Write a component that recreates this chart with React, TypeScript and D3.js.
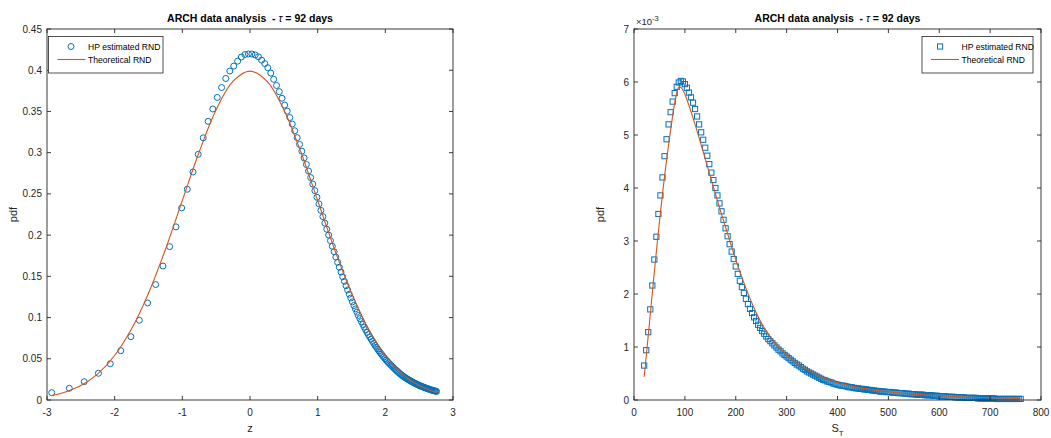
import React, { useLayoutEffect } from 'react';
import * as d3 from 'd3';

// left panel: standardised z
const zHp = [-2.93, -2.67, -2.45, -2.24, -2.065, -1.91, -1.76, -1.636, -1.513, -1.394, -1.286, -1.187, -1.094, -1.01, -0.927, -0.842,
  -0.765, -0.691, -0.619, -0.55, -0.484, -0.42, -0.358, -0.298, -0.24, -0.183, -0.128, -0.075, -0.023, 0.028, 0.077, 0.125, 0.172, 0.218, 0.263, 0.307, 0.35, 0.392, 0.433, 0.473,
  0.512, 0.55, 0.588, 0.625, 0.661, 0.697, 0.732, 0.766, 0.8, 0.833, 0.865, 0.897, 0.928, 0.959, 0.989, 1.019, 1.048, 1.077, 1.106,
  1.134, 1.162, 1.189, 1.216, 1.243, 1.269, 1.295, 1.32, 1.345, 1.37, 1.395, 1.419, 1.443, 1.467, 1.49, 1.513, 1.536, 1.558, 1.58, 1.602,
  1.624, 1.646, 1.667, 1.688, 1.709, 1.73, 1.75, 1.77, 1.79, 1.81, 1.829, 1.848, 1.867, 1.886, 1.905, 1.923, 1.941, 1.959, 1.977, 1.995,
  2.013, 2.03, 2.047, 2.064, 2.081, 2.098, 2.115, 2.131, 2.147, 2.163, 2.179, 2.195, 2.211, 2.227, 2.242, 2.257, 2.272, 2.287, 2.302, 2.317,
  2.332, 2.347, 2.361, 2.375, 2.389, 2.403, 2.417, 2.431, 2.445, 2.459, 2.473, 2.487, 2.5, 2.513, 2.526, 2.539, 2.552, 2.565, 2.578, 2.591,
  2.603, 2.615, 2.627, 2.639, 2.651, 2.663, 2.675, 2.687, 2.699, 2.711, 2.723, 2.735, 2.746, 2.757];
const pdfHpZ = [0.0089, 0.0142, 0.0222, 0.0324, 0.044, 0.0598, 0.0768, 0.0967, 0.1177, 0.14, 0.1625, 0.186, 0.21, 0.233, 0.2556, 0.2766,
  0.298, 0.318, 0.338, 0.353, 0.367, 0.379, 0.39, 0.399, 0.405, 0.411, 0.416, 0.419, 0.4197, 0.4197, 0.4185, 0.4163, 0.4122, 0.408, 0.403, 0.3965, 0.389, 0.3815, 0.374, 0.366,
  0.3577, 0.3504, 0.3426, 0.3347, 0.3266, 0.3182, 0.31, 0.3018, 0.2937, 0.2857, 0.2777, 0.2698, 0.2619, 0.2539, 0.2459, 0.2379, 0.23, 0.2224, 0.2146,
  0.2072, 0.2001, 0.1933, 0.1865, 0.1798, 0.1733, 0.167, 0.161, 0.1552, 0.1495, 0.1439, 0.1386, 0.1334, 0.1283, 0.1237, 0.119, 0.1146, 0.1105, 0.1065, 0.1026,
  0.0987, 0.0951, 0.0917, 0.0884, 0.0852, 0.0821, 0.0793, 0.0765, 0.0738, 0.0711, 0.0687, 0.0663, 0.064, 0.0618, 0.0596, 0.0576, 0.0556, 0.0538, 0.0519, 0.0501,
  0.0484, 0.0468, 0.0453, 0.0438, 0.0424, 0.041, 0.0396, 0.0383, 0.037, 0.0358, 0.0346, 0.0334, 0.0322, 0.0311, 0.0302, 0.0292, 0.0283, 0.0275, 0.0266, 0.0259,
  0.0251, 0.0244, 0.0237, 0.023, 0.0224, 0.0217, 0.0211, 0.0205, 0.0199, 0.0194, 0.0188, 0.0182, 0.0177, 0.0173, 0.0168, 0.0164, 0.016, 0.0156, 0.0152, 0.0147,
  0.0144, 0.014, 0.0137, 0.0133, 0.013, 0.0126, 0.0123, 0.012, 0.0117, 0.0114, 0.0112, 0.0109, 0.0107, 0.0104];
const zTheo = [-2.93, -2.75, -2.5, -2.25, -2, -1.75, -1.5, -1.25, -1, -0.75, -0.5, -0.25, 0, 0.25, 0.5, 0.75, 1, 1.25, 1.5, 1.75, 2, 2.25, 2.5, 2.76];
const pdfTheoZ = [0.0055, 0.0091, 0.0175, 0.0317, 0.054, 0.0863, 0.1295, 0.1826, 0.242, 0.3011, 0.3521, 0.3867, 0.3989, 0.3867, 0.3521, 0.3011, 0.242, 0.1826, 0.1295, 0.0863, 0.054, 0.0317, 0.0175, 0.0088];

// right panel: S_T, pdf in units of 1e-3
const sHp = [20, 24, 28, 32, 36, 40, 44, 48, 52, 56, 60, 64, 68, 72, 76, 80, 84, 88, 92, 96,
  100, 104, 108, 112, 116, 120, 124, 128, 132, 136, 140, 144, 148, 152, 156, 160, 164, 168, 172, 176,
  180, 184, 188, 192, 196, 200, 204, 208, 212, 216, 220, 224, 228, 232, 236, 240, 244, 248, 252, 256,
  260, 264, 268, 272, 276, 280, 284, 288, 292, 296, 300, 304, 308, 312, 316, 320, 324, 328, 332, 336,
  340, 344, 348, 352, 356, 360, 364, 368, 372, 376, 380, 384, 388, 392, 396, 400, 404, 408, 412, 416,
  420, 424, 428, 432, 436, 440, 444, 448, 452, 456, 460, 464, 468, 472, 476, 480, 484, 488, 492, 496,
  500, 504, 508, 512, 516, 520, 524, 528, 532, 536, 540, 544, 548, 552, 556, 560, 564, 568, 572, 576,
  580, 584, 588, 592, 596, 600, 604, 608, 612, 616, 620, 624, 628, 632, 636, 640, 644, 648, 652, 656,
  660, 664, 668, 672, 676, 680, 684, 688, 692, 696, 700, 704, 708, 712, 716, 720, 724, 728, 732, 736,
  740, 744, 748, 752, 756, 760];
const pdfHpS = [0.65, 0.94, 1.28, 1.71, 2.16, 2.65, 3.08, 3.51, 3.86, 4.2, 4.6, 4.92, 5.2, 5.43, 5.63, 5.79, 5.91, 5.99, 6.02, 6.01,
  5.96, 5.89, 5.8, 5.71, 5.61, 5.49, 5.35, 5.2, 5.05, 4.91, 4.76, 4.61, 4.45, 4.29, 4.15, 4.0, 3.86, 3.71, 3.56, 3.4,
  3.24, 3.09, 2.94, 2.8, 2.66, 2.52, 2.38, 2.25, 2.13, 2.02, 1.91, 1.81, 1.72, 1.64, 1.56, 1.49, 1.42, 1.36, 1.3, 1.25,
  1.2, 1.15, 1.11, 1.07, 1.03, 0.99, 0.95, 0.92, 0.88, 0.85, 0.82, 0.79, 0.76, 0.73, 0.7, 0.67, 0.65, 0.62, 0.59, 0.57,
  0.54, 0.52, 0.5, 0.48, 0.46, 0.44, 0.42, 0.4, 0.38, 0.37, 0.35, 0.34, 0.33, 0.31, 0.3, 0.29, 0.28, 0.27, 0.27, 0.26,
  0.25, 0.24, 0.24, 0.23, 0.22, 0.22, 0.21, 0.21, 0.2, 0.2, 0.19, 0.19, 0.18, 0.18, 0.17, 0.17, 0.16, 0.16, 0.16, 0.15,
  0.15, 0.15, 0.14, 0.14, 0.14, 0.13, 0.13, 0.13, 0.12, 0.12, 0.12, 0.11, 0.11, 0.11, 0.1, 0.1, 0.1, 0.1, 0.09, 0.09,
  0.09, 0.09, 0.08, 0.08, 0.08, 0.07, 0.07, 0.07, 0.07, 0.06, 0.06, 0.06, 0.06, 0.05, 0.05, 0.05, 0.05, 0.05, 0.04, 0.04,
  0.04, 0.04, 0.04, 0.04, 0.03, 0.03, 0.03, 0.03, 0.03, 0.03, 0.03, 0.03, 0.03, 0.02, 0.02, 0.02, 0.02, 0.02, 0.02, 0.02,
  0.02, 0.02, 0.02, 0.02, 0.02, 0.02];
const sTheo = [20, 25, 30, 35, 40, 45, 50, 55, 60, 65, 70, 75, 80, 85, 88, 92, 96, 100, 110, 120, 130, 140, 150, 160, 170, 180, 190, 200,
  210, 220, 230, 240, 250, 260, 275, 300, 325, 350, 375, 400, 450, 500, 550, 600, 650, 700, 760];
const pdfTheoS = [0.44, 0.92, 1.42, 1.92, 2.42, 2.9, 3.36, 3.8, 4.22, 4.6, 4.96, 5.3, 5.6, 5.83, 5.9, 5.9, 5.85, 5.77, 5.5, 5.2, 4.88, 4.55, 4.22, 3.89, 3.57, 3.26, 2.95, 2.65,
  2.37, 2.11, 1.87, 1.65, 1.46, 1.3, 1.1, 0.85, 0.66, 0.52, 0.41, 0.33, 0.22, 0.155, 0.11, 0.08, 0.058, 0.042, 0.03];

const zTicks = [-3, -2, -1, 0, 1, 2, 3];
const pdfZTicks = [0, 0.05, 0.1, 0.15, 0.2, 0.25, 0.3, 0.35, 0.4, 0.45];
const sTicks = [0, 100, 200, 300, 400, 500, 600, 700, 800];
const pdfSTicks = [0, 1, 2, 3, 4, 5, 6, 7];

const W = 1051;
const H = 438;
const BLUE = '#0072BD';
const ORANGE = '#D95319';
const INK = '#262626';
const FONT = '"Liberation Sans", Arial, Helvetica, sans-serif';

type PanelProps = {
  x0: number; x1: number; y0: number; y1: number;
  xDomain: [number, number]; yDomain: [number, number];
  xTicks: number[]; yTicks: number[];
  hpX: number[]; hpY: number[]; thX: number[]; thY: number[];
  marker: 'circle' | 'square';
  xLabel: React.ReactNode;
  exponent?: boolean;
  legendX: number; legendW: number;
};

const Panel = (p: PanelProps) => {
  const x = d3.scaleLinear().domain(p.xDomain).range([p.x0, p.x1]);
  const y = d3.scaleLinear().domain(p.yDomain).range([p.y1, p.y0]);
  const pts = p.hpX.map((v, i) => [v, p.hpY[i]]).filter((d) => d[1] !== undefined);
  const line = d3.line<number>()
    .x((d, i) => x(p.thX[i]))
    .y((d) => y(d))
    .curve(d3.curveCatmullRom.alpha(0.5));
  const cx = (p.x0 + p.x1) / 2;
  const tl = 4;
  const lx = p.legendX;
  return (
    <g>
      <rect x={p.x0} y={p.y0} width={p.x1 - p.x0} height={p.y1 - p.y0} fill="#fff" />
      {pts.map((d, i) => p.marker === 'circle'
        ? <circle key={i} cx={x(d[0])} cy={y(d[1])} r={3} fill="none" stroke={BLUE} strokeWidth={1} />
        : <rect key={i} x={x(d[0]) - 2.6} y={y(d[1]) - 2.6} width={5.2} height={5.2} fill="none" stroke={BLUE} strokeWidth={1} />)}
      <path d={line(p.thY) || ''} fill="none" stroke={ORANGE} strokeWidth={1.1} />

      {/* box and ticks */}
      <rect x={p.x0} y={p.y0} width={p.x1 - p.x0} height={p.y1 - p.y0} fill="none" stroke={INK} strokeWidth={0.9} />
      {p.xTicks.map((t) => (
        <g key={'x' + t}>
          <line x1={x(t)} x2={x(t)} y1={p.y1} y2={p.y1 - tl} stroke={INK} strokeWidth={0.9} />
          <line x1={x(t)} x2={x(t)} y1={p.y0} y2={p.y0 + tl} stroke={INK} strokeWidth={0.9} />
          <text x={x(t)} y={p.y1 + 16} textAnchor="middle" fontSize={10} fill={INK}>{String(t)}</text>
        </g>
      ))}
      {p.yTicks.map((t) => (
        <g key={'y' + t}>
          <line x1={p.x0} x2={p.x0 + tl} y1={y(t)} y2={y(t)} stroke={INK} strokeWidth={0.9} />
          <line x1={p.x1} x2={p.x1 - tl} y1={y(t)} y2={y(t)} stroke={INK} strokeWidth={0.9} />
          <text x={p.x0 - 5} y={y(t) + 3.5} textAnchor="end" fontSize={10} fill={INK}>{String(t)}</text>
        </g>
      ))}
      {p.exponent && (
        <text x={p.x0 + 2} y={25} fontSize={9.5} fill={INK}>
          ×10<tspan dy={-4} fontSize={7.5}>-3</tspan>
        </text>
      )}

      {/* title and labels */}
      <text x={cx} y={22} textAnchor="middle" fontSize={10.5} fontWeight="bold" fill="#000" style={{ whiteSpace: 'pre' }}>
        {'ARCH data analysis  - '}<tspan fontStyle="italic" fontWeight="normal">τ</tspan>{' = 92 days'}
      </text>
      <text x={cx} y={432} textAnchor="middle" fontSize={11} fill={INK}>{p.xLabel}</text>
      <text transform={`translate(${p.x0 - 30},${(p.y0 + p.y1) / 2}) rotate(-90)`} textAnchor="middle" fontSize={11} fill={INK}>pdf</text>

      {/* legend */}
      <rect x={lx} y={36.5} width={p.legendW} height={36.5} fill="#fff" stroke={INK} strokeWidth={0.8} />
      {p.marker === 'circle'
        ? <circle cx={lx + 22.5} cy={46.5} r={3} fill="none" stroke={BLUE} strokeWidth={1} />
        : <rect x={lx + 15.5} y={43.9} width={5.2} height={5.2} fill="none" stroke={BLUE} strokeWidth={1} />}
      <line x1={lx + 9} x2={lx + 37} y1={59.5} y2={59.5} stroke={ORANGE} strokeWidth={1.1} />
      <text x={lx + 39.5} y={50} fontSize={8.6} fill="#000">HP estimated RND</text>
      <text x={lx + 39.5} y={62.5} fontSize={8.6} fill="#000">Theoretical RND</text>
    </g>
  );
};

export default function App() {
  useLayoutEffect(() => {
    document.body.style.margin = '0';
  }, []);
  return (
    <svg width={W} height={H} style={{ display: 'block', fontFamily: FONT, background: '#fff' }}>
      <rect x={0} y={0} width={W} height={H} fill="#fff" />
      <Panel x0={47} x1={453} y0={29} y1={400} xDomain={[-3, 3]} yDomain={[0, 0.45]}
        xTicks={zTicks} yTicks={pdfZTicks} hpX={zHp} hpY={pdfHpZ} thX={zTheo} thY={pdfTheoZ}
        marker="circle" xLabel="z" legendX={48.5} legendW={114.5} />
      <Panel x0={634} x1={1041} y0={29} y1={400} xDomain={[0, 800]} yDomain={[0, 7]}
        xTicks={sTicks} yTicks={pdfSTicks} hpX={sHp} hpY={pdfHpS} thX={sTheo} thY={pdfTheoS}
        marker="square" exponent
        xLabel={<>S<tspan dy={4} fontSize={8}>T</tspan></>} legendX={922} legendW={111} />
    </svg>
  );
}
